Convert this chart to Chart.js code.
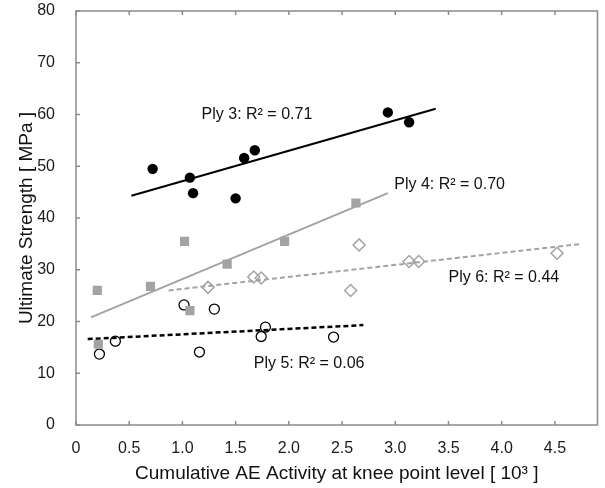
<!DOCTYPE html>
<html>
<head>
<meta charset="utf-8">
<script src="https://cdn.jsdelivr.net/npm/chart.js@4.4.1/dist/chart.umd.min.js"></script>
<style>
  html, body { margin: 0; padding: 0; background: #fff; }
  canvas { display: block; }
</style>
</head>
<body>
<canvas id="myChart" width="605" height="488"></canvas>
<script>
// measured points, x in 10^3 hits, y in MPa
const ply3X = [0.72, 1.07, 1.10, 1.50, 1.58, 1.68, 2.93, 3.13];
const ply3Y = [49.5, 47.8, 44.8, 43.8, 51.6, 53.1, 60.4, 58.5];

const ply4X = [0.20, 0.21, 0.70, 1.02, 1.07, 1.42, 1.96, 2.63];
const ply4Y = [26.0, 15.6, 26.8, 35.5, 22.1, 31.1, 35.5, 42.9];

const ply5X = [0.22, 0.37, 1.015, 1.16, 1.30, 1.74, 1.78, 2.42];
const ply5Y = [13.7, 16.2, 23.2, 14.1, 22.4, 17.1, 18.9, 17.0];

const ply6X = [1.24, 1.67, 1.74, 2.58, 2.66, 3.13, 3.22, 4.52];
const ply6Y = [26.6, 28.6, 28.4, 26.0, 34.8, 31.6, 31.6, 33.2];

// regression line end points
const fit3X = [0.52, 3.38], fit3Y = [44.3, 61.1];
const fit4X = [0.14, 2.93], fit4Y = [20.8, 44.8];
const fit5X = [0.11, 2.70], fit5Y = [16.6, 19.3];
const fit6X = [0.87, 4.75], fit6Y = [26.0, 35.0];

// tick values
const xTicks = [0, 0.5, 1.0, 1.5, 2.0, 2.5, 3.0, 3.5, 4.0, 4.5];
const yTicks = [0, 10, 20, 30, 40, 50, 60, 70, 80];

// R² labels
const noteText = ['Ply 3: R\u00b2 = 0.71', 'Ply 4: R\u00b2 = 0.70', 'Ply 5: R\u00b2 = 0.06', 'Ply 6: R\u00b2 = 0.44'];
const noteX = [1.18, 2.99, 1.67, 3.50];
const noteY = [60.0, 46.4, 11.9, 28.4];

const toXY = (xs, ys) => xs.map((v, i) => ({x: v, y: ys[i]}));

const AXIS = '#8a8a8a';
const GREY = '#a3a3a3';
const FONT = '"Liberation Sans", Arial, sans-serif';

// box around the plot and inward tick marks
const frame = {
  id: 'frame',
  afterDraw(chart) {
    const {ctx, chartArea: a, scales: {x, y}} = chart;
    ctx.save();
    ctx.strokeStyle = AXIS;
    ctx.lineWidth = 1.5;
    ctx.strokeRect(a.left, a.top, a.right - a.left, a.bottom - a.top);
    ctx.beginPath();
    x.ticks.forEach(t => {
      const px = x.getPixelForValue(t.value);
      ctx.moveTo(px, a.bottom); ctx.lineTo(px, a.bottom - 4);
      ctx.moveTo(px, a.top); ctx.lineTo(px, a.top + 4);
    });
    y.ticks.forEach(t => {
      const py = y.getPixelForValue(t.value);
      ctx.moveTo(a.left, py); ctx.lineTo(a.left + 4, py);
    });
    ctx.stroke();
    ctx.restore();
  }
};

const notes = {
  id: 'notes',
  afterDatasetsDraw(chart) {
    const {ctx, scales: {x, y}} = chart;
    ctx.save();
    ctx.fillStyle = '#111';
    ctx.font = '16px ' + FONT;
    ctx.textAlign = 'left';
    ctx.textBaseline = 'middle';
    noteText.forEach((s, i) => {
      ctx.fillText(s, x.getPixelForValue(noteX[i]), y.getPixelForValue(noteY[i]));
    });
    ctx.restore();
  }
};

const ctx = document.getElementById('myChart');

new Chart(ctx, {
  type: 'scatter',
  data: {
    datasets: [
      {
        label: 'Ply 3',
        data: toXY(ply3X, ply3Y),
        pointStyle: 'circle',
        pointRadius: 5.2,
        backgroundColor: '#000',
        borderColor: '#000',
        borderWidth: 0
      },
      {
        label: 'Ply 4',
        data: toXY(ply4X, ply4Y),
        pointStyle: 'rect',
        pointRadius: 6.5,
        backgroundColor: GREY,
        borderColor: GREY,
        borderWidth: 0
      },
      {
        label: 'Ply 5',
        data: toXY(ply5X, ply5Y),
        pointStyle: 'circle',
        pointRadius: 5,
        backgroundColor: 'rgba(255,255,255,0)',
        borderColor: '#000',
        borderWidth: 1.3
      },
      {
        label: 'Ply 6',
        data: toXY(ply6X, ply6Y),
        pointStyle: 'rectRot',
        pointRadius: 6,
        backgroundColor: 'rgba(255,255,255,0)',
        borderColor: GREY,
        borderWidth: 1.5
      },
      {
        label: 'fit 3',
        data: toXY(fit3X, fit3Y),
        showLine: true,
        pointRadius: 0,
        borderColor: '#000',
        borderWidth: 2
      },
      {
        label: 'fit 4',
        data: toXY(fit4X, fit4Y),
        showLine: true,
        pointRadius: 0,
        borderColor: GREY,
        borderWidth: 2
      },
      {
        label: 'fit 5',
        data: toXY(fit5X, fit5Y),
        showLine: true,
        pointRadius: 0,
        borderColor: '#000',
        borderWidth: 2.5,
        borderDash: [5, 3]
      },
      {
        label: 'fit 6',
        data: toXY(fit6X, fit6Y),
        showLine: true,
        pointRadius: 0,
        borderColor: GREY,
        borderWidth: 2,
        borderDash: [5, 3]
      }
    ]
  },
  options: {
    responsive: false,
    animation: false,
    devicePixelRatio: 1,
    layout: { padding: { top: 11, right: 1, left: 0, bottom: 0 } },
    plugins: {
      legend: { display: false },
      tooltip: { enabled: false }
    },
    scales: {
      x: {
        type: 'linear',
        min: 0,
        max: 4.9,
        grid: { display: false },
        border: { display: false },
        afterBuildTicks: s => { s.ticks = xTicks.map(v => ({value: v})); },
        afterFit: s => {
          s.height = 63;
          s.paddingLeft = 0;
          s.paddingRight = 0;
        },
        ticks: {
          padding: 6,
          color: '#1a1a1a',
          font: { family: FONT, size: 16 },
          maxRotation: 0,
          autoSkip: false,
          callback: v => v === 0 ? '0' : v.toFixed(1)
        },
        title: {
          display: true,
          text: 'Cumulative AE Activity at knee point level [ 10\u00b3 ]',
          color: '#111',
          font: { family: FONT, size: 19 },
          padding: { top: 0, bottom: 3 }
        }
      },
      y: {
        min: 0,
        max: 80,
        grid: { display: false },
        border: { display: false },
        afterBuildTicks: s => { s.ticks = yTicks.map(v => ({value: v})); },
        afterFit: s => {
          s.width = 76;
          s.paddingTop = 0;
          s.paddingBottom = 0;
        },
        ticks: {
          padding: 13,
          color: '#1a1a1a',
          font: { family: FONT, size: 16 }
        },
        title: {
          display: true,
          text: 'Ultimate Strength [ MPa ]',
          color: '#111',
          font: { family: FONT, size: 19 },
          padding: { top: 15, bottom: 0 }
        }
      }
    }
  },
  plugins: [frame, notes]
});
</script>
</body>
</html>
